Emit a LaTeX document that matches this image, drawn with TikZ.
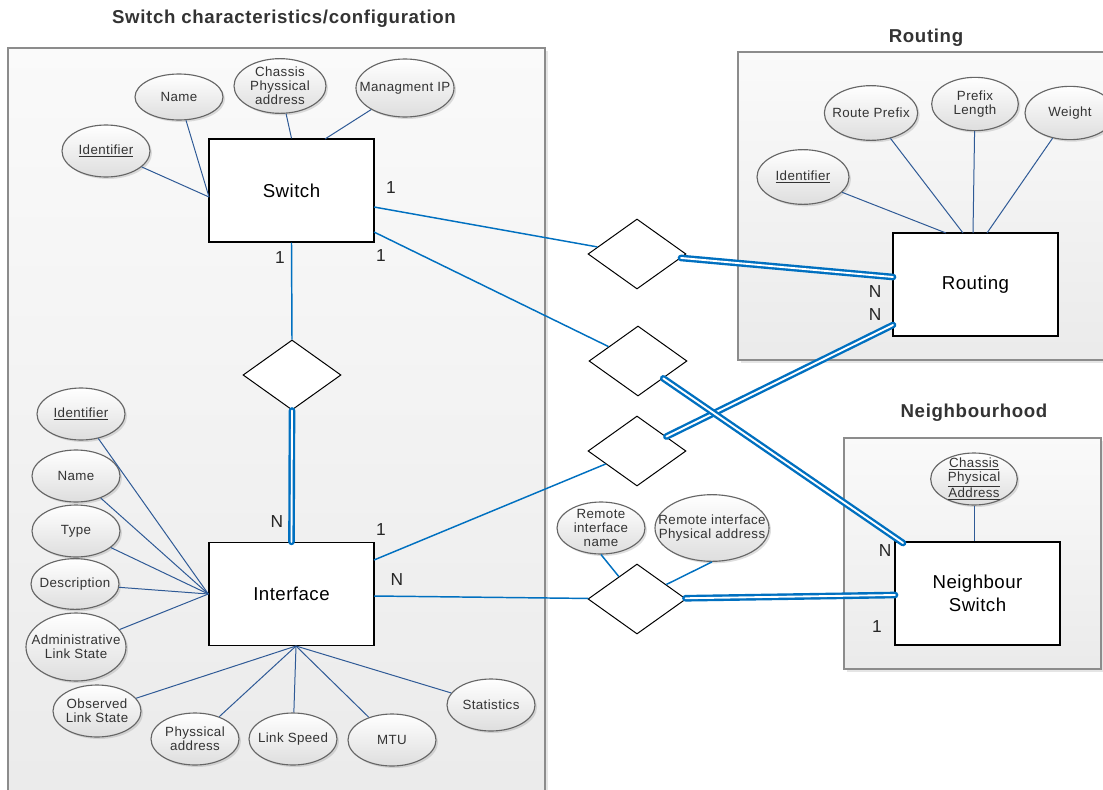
\documentclass[tikz,border=0pt]{standalone}
\usepackage{fontspec}
\setmainfont{Liberation Sans}
\usetikzlibrary{shapes.geometric,shadows,calc}

\definecolor{attrline}{HTML}{2F5A96}
\definecolor{relline}{HTML}{0070C0}
\definecolor{attrtext}{HTML}{333333}
\definecolor{framegray}{HTML}{8C8C8C}
\definecolor{ellborder}{HTML}{666666}

\tikzset{
  attr/.style={ellipse, draw=ellborder, line width=0.85pt, top color=white, bottom color=black!13,
    inner xsep=-10pt, inner ysep=-4pt, minimum width=66pt, minimum height=39pt, align=center,
    text=attrtext, font=\fontsize{10}{10.5}\selectfont\addfontfeature{LetterSpace=3},
    drop shadow={shadow xshift=1.5pt, shadow yshift=-1.5pt, opacity=0.25}},
  entity/.style={rectangle, draw=black, line width=1pt, fill=white, minimum width=123.75pt,
    minimum height=77.25pt, inner sep=0pt, align=center,
    font=\fontsize{14}{17}\selectfont\addfontfeature{LetterSpace=2.5}},
  rel/.style={diamond, draw=black, line width=0.75pt, fill=white, minimum width=73.5pt,
    minimum height=52.5pt, inner sep=0pt},
  group/.style={draw=framegray, line width=0.9pt, top color=black!2, bottom color=black!8,
    drop shadow={shadow xshift=2pt, shadow yshift=-2pt, opacity=0.2}},
  grouptitle/.style={font=\bfseries\fontsize{14}{16}\selectfont\addfontfeature{LetterSpace=3.5}, text=black!80},
  card/.style={font=\fontsize{13}{15}\selectfont, text=black!85},
  attrlink/.style={draw=attrline, line width=0.75pt},
  rellink/.style={draw=relline, line width=1.1pt},
  totallink/.style={draw=relline, line width=1.8pt, double=white, double distance=1.4pt, line cap=round},
}

\begin{document}
\begin{tikzpicture}[x=0.75pt,y=-0.75pt]
\useasboundingbox (0,0) rectangle (1103,789);
\fill[white] (0,0) rectangle (1103,789);

% group frames
\path[group] (8,48) rectangle (545,805);
\path[group] (738,52) rectangle (1115,360);
\path[group] (844,438) rectangle (1101,669);

\node[grouptitle] (ttlswitch) at (284,19) {Switch characteristics/configuration};
\node[grouptitle] (ttlrouting) at (926,38) {Routing};
\node[grouptitle] (ttlneigh) at (974,413) {Neighbourhood};

% entities
\node[entity] (switch) at (291.5,190.5) {Switch};
\node[entity] (iface) at (291.5,594) {Interface};
\node[entity] (routing) at (975.5,284.5) {Routing};
\node[entity] (nsw) at (977.5,593.5) {Neighbour\\Switch};

% relationships
\node[rel] (dm) at (292,375) {};
\node[rel] (d1) at (637,254) {};
\node[rel] (d2) at (638,361) {};
\node[rel] (d3) at (637,451) {};
\node[rel] (d4) at (637,599) {};

% switch attributes
\node[attr] (swid) at (106,151) {\underline{Identifier}};
\node[attr, minimum height=34.5pt] (swname) at (179,97) {Name};
\node[attr, minimum width=69pt, minimum height=41pt] (swchassis) at (280,86) {Chassis\\Physsical\\address};
\node[attr, minimum width=73.5pt, minimum height=43.5pt] (swip) at (405,88) {Managment IP};

% routing attributes
\node[attr, minimum width=69pt, minimum height=41pt] (rtid) at (803,177) {\underline{Identifier}};
\node[attr, minimum width=70pt, minimum height=41pt] (rtprefix) at (871,113) {Route Prefix};
\node[attr, minimum width=65pt, minimum height=40pt] (rtlen) at (975,104) {Prefix\\Length};
\node[attr, minimum width=67.5pt, minimum height=40pt] (rtweight) at (1070,113) {Weight};

% interface attributes
\node[attr] (ifid) at (81,414) {\underline{Identifier}};
\node[attr] (ifname) at (76,476) {Name};
\node[attr] (iftype) at (76,531) {Type};
\node[attr, minimum height=38pt] (ifdesc) at (75,584) {Description};
\node[attr, minimum width=75pt, minimum height=51pt] (ifadmin) at (76,647) {Administrative\\Link State};
\node[attr] (ifobs) at (97,711) {Observed\\Link State};
\node[attr] (ifphys) at (195,739) {Physsical\\address};
\node[attr] (ifspeed) at (293,739) {Link Speed};
\node[attr] (ifmtu) at (392,740) {MTU};
\node[attr] (ifstats) at (491,705) {Statistics};

% neighbourhood attributes
\node[attr, minimum width=65pt] (nbchassis) at (974,479) {\underline{Chassis}\\\underline{Physical}\\\underline{Address}};
\node[attr] (rmname) at (601,528) {Remote\\interface\\name};
\node[attr, minimum width=85.5pt, minimum height=50pt] (rmphys) at (712,528) {Remote interface\\Physical address};

% attachment points
\coordinate (swL) at (209,197);
\coordinate (swT) at (325,139);
\coordinate (swR1) at (374,207);
\coordinate (swR2) at (374,232);
\coordinate (rtA) at (946,233);
\coordinate (rtB) at (963,233);
\coordinate (rtC) at (973,233);
\coordinate (rtD) at (987,233);
\coordinate (rtL1) at (893,277);
\coordinate (rtL2) at (893,325);
\coordinate (ifB) at (296,646);
\coordinate (ifR1) at (374,560);
\coordinate (ifR2) at (374,596);
\coordinate (nbT) at (903,543);
\coordinate (nbL) at (895,595);

% attribute links
\draw[attrlink] (swid) -- (swL);
\draw[attrlink] (swname) -- (swL);
\draw[attrlink] (swchassis) -- (switch.north);
\draw[attrlink] (swip) -- (swT);

\draw[attrlink] (rtid) -- (rtA);
\draw[attrlink] (rtprefix) -- (rtB);
\draw[attrlink] (rtlen) -- (rtC);
\draw[attrlink] (rtweight) -- (rtD);

\foreach \a in {ifid,ifname,iftype,ifdesc,ifadmin}
  \draw[attrlink] (\a) -- (iface.west);
\foreach \a in {ifobs,ifphys,ifspeed,ifmtu,ifstats}
  \draw[attrlink] (\a) -- (ifB);

\draw[attrlink] (nbchassis) -- (nbchassis |- nsw.north);
\draw[rellink] (rmname.south) -- (d4);
\draw[rellink] (rmphys.south) -- (d4);

% relationship links
\draw[rellink] (swR1) -- (d1);
\draw[rellink] (swR2) -- (d2);
\draw[rellink] (switch.south) -- (dm.north);
\draw[rellink] (ifR1) -- (d3);
\draw[rellink] (ifR2) -- (d4);

\draw[totallink] (dm.south) -- (iface.north);
\draw[totallink] (d1) -- (rtL1);
\draw[totallink] (rtL2) -- (d3);
\draw[totallink] (d2) -- (nbT);
\draw[totallink] (d4) -- (nbL);

% cardinalities
\node[card] (c1) at (391,188) {1};
\node[card] (c2) at (280,258) {1};
\node[card] (c3) at (381,256) {1};
\node[card] (c4) at (875,292) {N};
\node[card] (c5) at (875,315) {N};
\node[card] (c6) at (277,522) {N};
\node[card] (c7) at (381,530) {1};
\node[card] (c8) at (397,580) {N};
\node[card] (c9) at (885,551) {N};
\node[card] (c10) at (877,627) {1};
\end{tikzpicture}
\end{document}
